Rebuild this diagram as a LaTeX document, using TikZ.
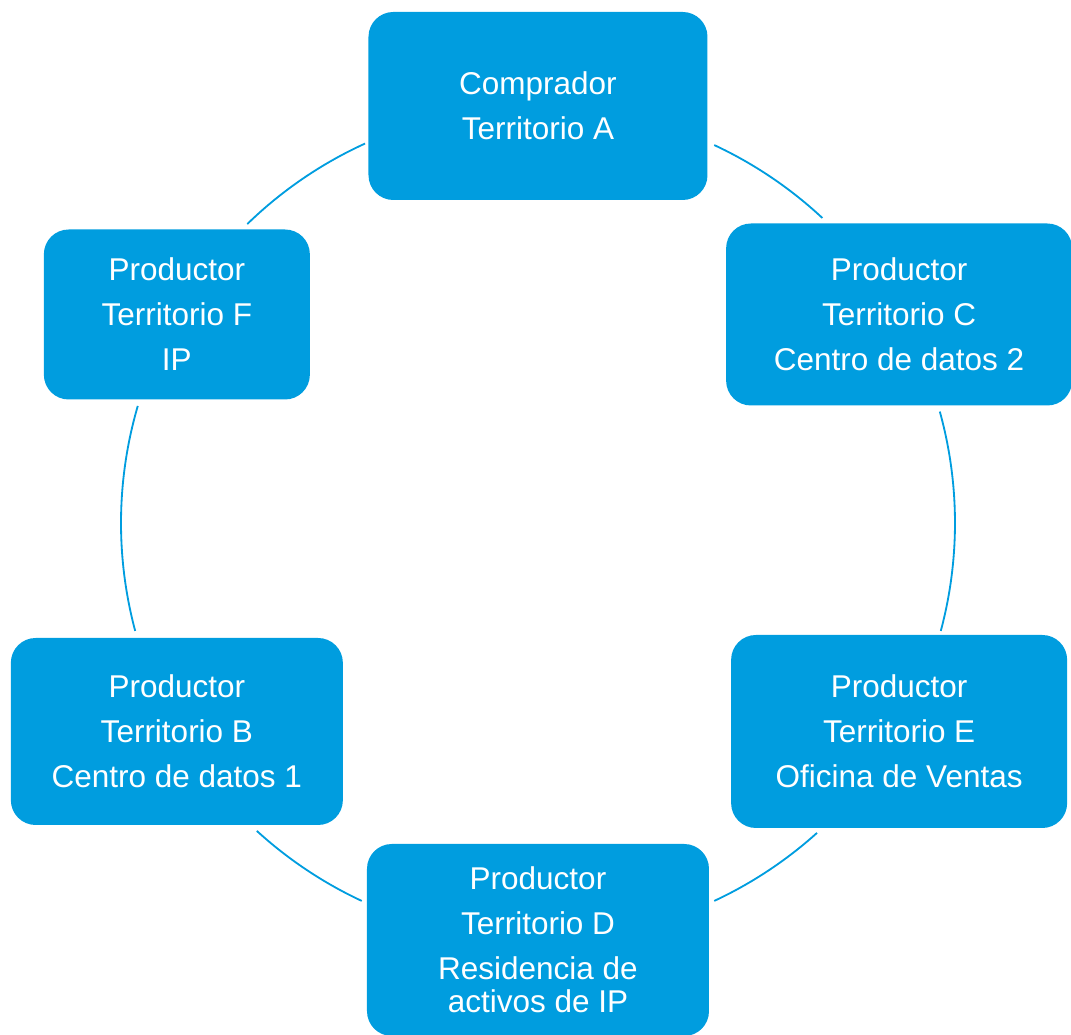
\documentclass[tikz,border=0pt]{standalone}
\usepackage{fontspec}
\setmainfont{Liberation Sans}
\usepackage{tikz}
\definecolor{cycleblue}{HTML}{009DDF}

\begin{document}
\begin{tikzpicture}[
	box/.style={fill=cycleblue, rounded corners=0.62cm, align=center, text=white, inner sep=0pt,
		font=\fontsize{22.4}{32}\selectfont},
	link/.style={draw=cycleblue, line width=1.3pt}]
		\def\ringrad{10.425}
		\useasboundingbox (-13.45,-12.8) rectangle (13.325,13.075);
		\coordinate (o) at (0,0);
		% the six boxes around the circle
		\node[box, minimum width=8.475cm, minimum height=4.7cm] (a) at (90:\ringrad) {Comprador\\Territorio A};
		\node[box, minimum width=8.65cm, minimum height=4.55cm] (c) at (30:\ringrad) {Productor\\Territorio C\\Centro de datos 2};
		\node[box, minimum width=8.4cm, minimum height=4.825cm] (e) at (-30:\ringrad) {Productor\\Territorio E\\Oficina de Ventas};
		\node[box, minimum width=8.55cm, minimum height=4.8cm] (d) at (-90:\ringrad) {Productor\\Territorio D\\Residencia de\\[-8.6pt]activos de IP};
		\node[box, minimum width=8.3cm, minimum height=4.675cm] (b) at (-150:\ringrad) {Productor\\Territorio B\\Centro de datos 1};
		\node[box, minimum width=6.65cm, minimum height=4.25cm] (f) at (150:\ringrad) {Productor\\Territorio F\\IP};
		% arcs between the boxes
		\draw[link] ([shift={(65:\ringrad)}]o) arc[start angle=65, end angle=47, radius=\ringrad];
		\draw[link] ([shift={(15.5:\ringrad)}]o) arc[start angle=15.5, end angle=-15, radius=\ringrad];
		\draw[link] ([shift={(-48:\ringrad)}]o) arc[start angle=-48, end angle=-65, radius=\ringrad];
		\draw[link] ([shift={(-115:\ringrad)}]o) arc[start angle=-115, end angle=-132.4, radius=\ringrad];
		\draw[link] ([shift={(-165:\ringrad)}]o) arc[start angle=-165, end angle=-196.3, radius=\ringrad];
		\draw[link] ([shift={(134.2:\ringrad)}]o) arc[start angle=134.2, end angle=114.5, radius=\ringrad];
	\end{tikzpicture}
\end{document}
